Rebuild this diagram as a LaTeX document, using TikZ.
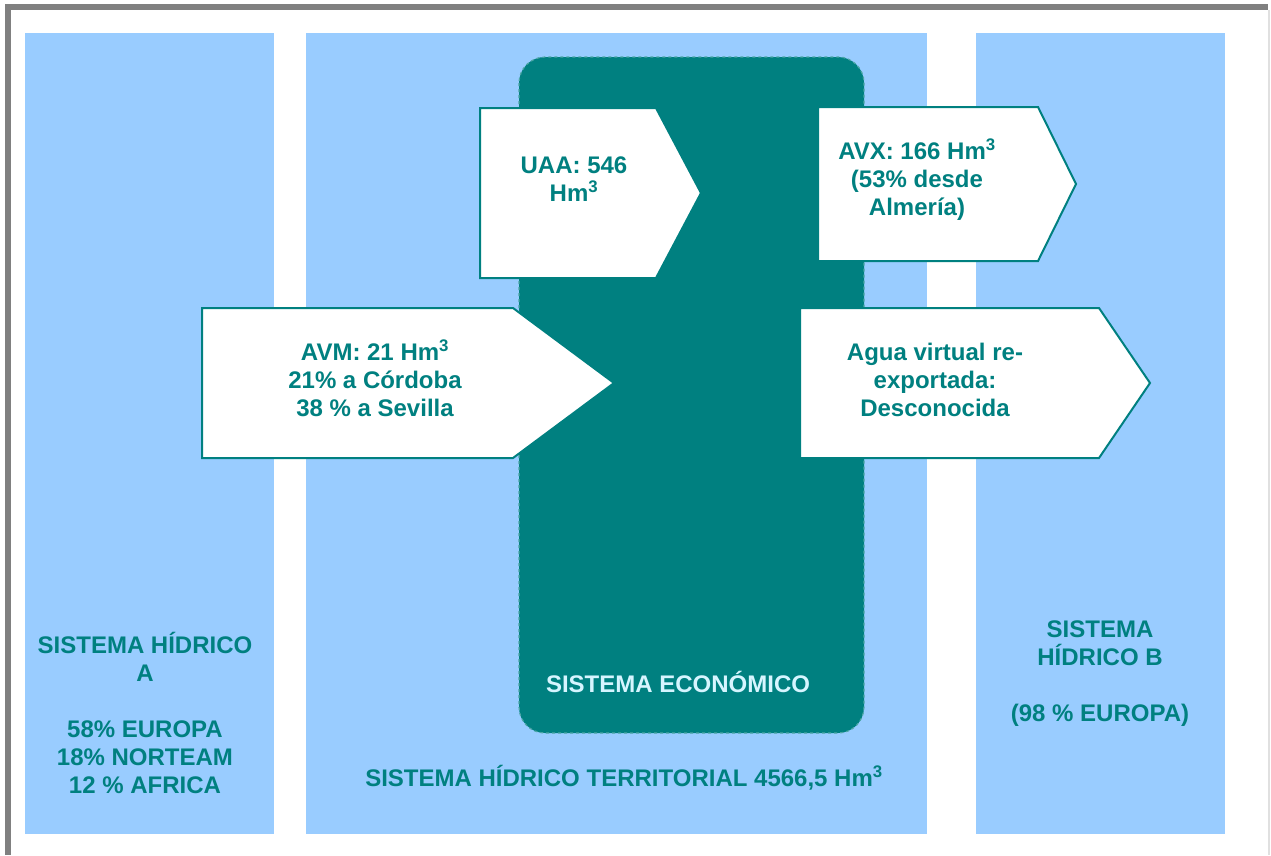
\documentclass[tikz,border=0pt]{standalone}
\usepackage{fontspec}
\setmainfont{Liberation Sans}
\definecolor{shblue}{RGB}{153,204,255}
\definecolor{shteal}{RGB}{0,128,128}
\definecolor{shlight}{RGB}{214,245,255}
\definecolor{shframe}{RGB}{128,128,128}
\tikzset{
  shal/.style={x=1pt, y=-1pt, font=\fontsize{24}{28}\selectfont\bfseries, text=shteal},
  sh panel/.style={fill=shblue},
  sh eco/.style={fill=shteal, draw=shteal!70!white, dashed, line width=1.2pt, rounded corners=26pt},
  sh flow/.style={draw=shteal, fill=white, line width=2pt, line join=miter},
  sh lab/.style={align=center, inner sep=0pt},
  sh frame/.style={fill=shframe},
}
\newcommand{\hmc}{Hm\textsuperscript{3}}

\begin{document}
\begin{tikzpicture}[shal]
\useasboundingbox (0, 0) rectangle (1271, 855);
\fill[white] (0, 0) rectangle (1271, 855);
% ---- frame ----
\fill[sh frame] (5, 4) rectangle (1268, 10);  \fill[sh frame] (5, 4) rectangle (11, 855);
\fill[black!12] (1268, 10) rectangle (1270, 855);
% ---- water systems ----
\fill[sh panel] (25, 33) rectangle (274, 834);
\fill[sh panel] (306, 33) rectangle (927, 834);
\fill[sh panel] (976, 33) rectangle (1225, 834);
\filldraw[sh eco] (519, 57) rectangle (864, 733);
\node[sh lab] (sa) at (145, 713) {SISTEMA HÍDRICO\\A\\[28pt]58\% EUROPA\\18\% NORTEAM\\12 \% AFRICA};
\node[sh lab] (sb) at (1100, 674) {SISTEMA\\HÍDRICO B\\[28pt](98 \% EUROPA)};
\node[sh lab] (st) at (624, 778) {SISTEMA HÍDRICO TERRITORIAL 4566,5 \hmc};
\node[sh lab, text=shlight] (se) at (678, 682) {SISTEMA ECONÓMICO};
% ---- virtual water flows ----
\draw[sh flow] (480, 108) -- (656, 108) -- (701, 193) -- (656, 278) -- (480, 278) -- cycle;
\node[sh lab] (uaa) at (574, 179) {UAA: 546\\\hmc};
\draw[sh flow] (818, 107) -- (1038, 107) -- (1076, 184) -- (1038, 261) -- (818, 261) -- cycle;
\node[sh lab] (avx) at (917, 180) {AVX: 166 \hmc\\(53\% desde\\Almería)};
\draw[sh flow] (202, 308) -- (513, 308) -- (614, 383) -- (513, 458) -- (202, 458) -- cycle;
\node[sh lab] (avm) at (375, 378) {AVM: 21 \hmc\\21\% a Córdoba\\38 \% a Sevilla};
\draw[sh flow] (800, 308) -- (1099, 308) -- (1150, 383) -- (1099, 458) -- (800, 458) -- cycle;
\node[sh lab] (avr) at (935, 380) {Agua virtual re-\\exportada:\\Desconocida};
\end{tikzpicture}
\end{document}
